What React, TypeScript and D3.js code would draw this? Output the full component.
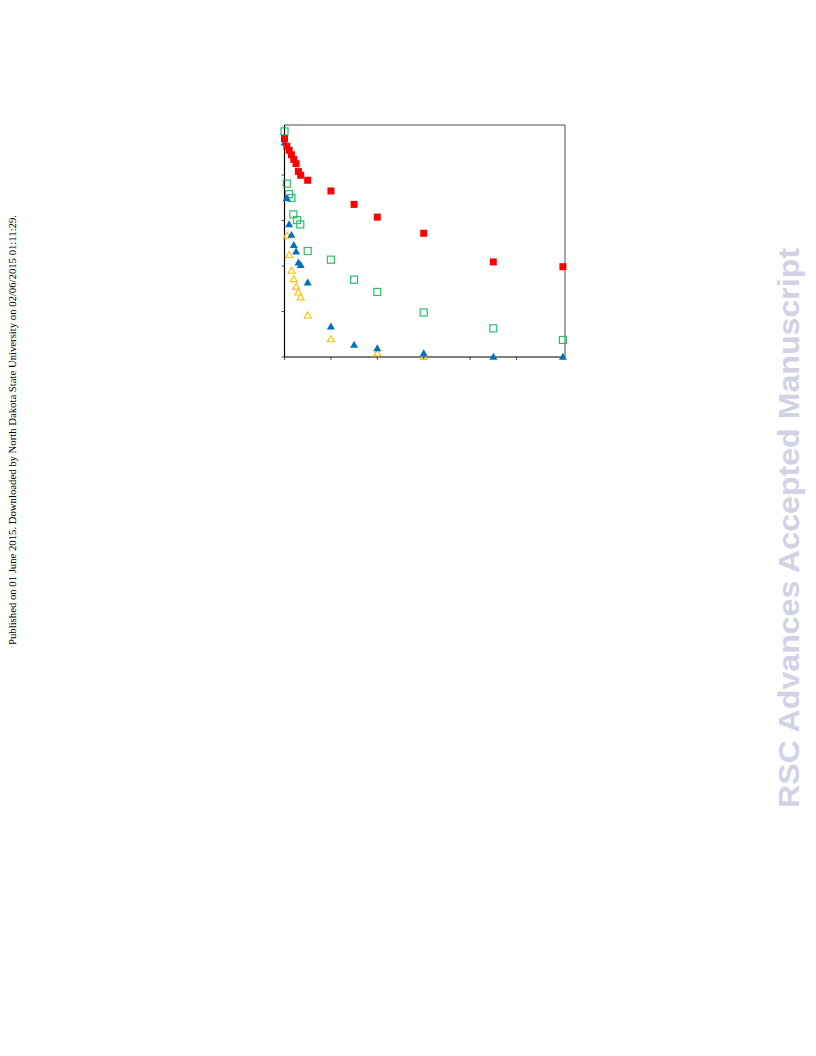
import React from "react";
import * as d3 from "d3";

const xTicks = [0, 10, 20, 30, 40, 50, 60];
const yTicks = [0, 0.2, 0.4, 0.6, 0.8];

const redX = [0, 0.5, 1, 1.5, 2, 2.5, 3, 3.5, 5, 10, 15, 20, 30, 45, 60];
const redY = [0.96, 0.927, 0.909, 0.889, 0.869, 0.85, 0.816, 0.799, 0.777, 0.73, 0.671, 0.615, 0.544, 0.418, 0.397];

const greenX = [0, 0.5, 1, 1.5, 1.9, 2.7, 3.4, 5, 10, 15, 20, 30, 45, 60];
const greenY = [0.992, 0.762, 0.716, 0.699, 0.627, 0.602, 0.583, 0.466, 0.428, 0.34, 0.286, 0.196, 0.126, 0.075];

const blueX = [0, 0.5, 1, 1.5, 2, 2.5, 3, 3.5, 5, 10, 15, 20, 30, 45, 60];
const blueY = [0.942, 0.698, 0.583, 0.536, 0.492, 0.463, 0.415, 0.404, 0.327, 0.133, 0.053, 0.038, 0.016, 0.0, 0.0];

const orangeX = [0.5, 1, 1.5, 2, 2.5, 3, 3.5, 5, 10, 20, 30];
const orangeY = [0.533, 0.448, 0.379, 0.342, 0.309, 0.283, 0.262, 0.182, 0.078, 0.016, 0.0];

const sideNote = "Published on 01 June 2015. Downloaded by North Dakota State University on 02/06/2015 01:11:29.";
const watermark = "RSC Advances Accepted Manuscript";

export default function App() {
  const left = 284.5, right = 565, top = 125, bottom = 357;
  const x = d3.scaleLinear().domain([0, 60.45]).range([left, right]);
  const y = d3.scaleLinear().domain([0, 1.02]).range([bottom, top]);

  const tri = (cx: number, cy: number, s: number) => {
    const h = s * 0.87;
    return `M${cx},${cy - h * 0.6}L${cx + s / 2},${cy + h * 0.4}L${cx - s / 2},${cy + h * 0.4}Z`;
  };

  return (
    <svg width={816} height={1056} style={{ position: "absolute", left: 0, top: 0, background: "#fff" }}>
      <text
        transform={`translate(15.5,430) rotate(-90)`}
        textAnchor="middle"
        fontFamily="Liberation Serif, Times New Roman, serif"
        fontSize={10}
        textLength={430}
        lengthAdjust="spacingAndGlyphs"
        fill="#000"
      >
        {sideNote}
      </text>
      <text
        transform={`translate(799,528) rotate(-90)`}
        textAnchor="middle"
        fontFamily="Liberation Sans, Arial, sans-serif"
        fontWeight="bold"
        fontSize={30}
        textLength={560}
        lengthAdjust="spacingAndGlyphs"
        fill="#D2D2E6"
      >
        {watermark}
      </text>

      <line x1={left} x2={right} y1={top} y2={top} stroke="#868686" strokeWidth={1.5} />
      <line x1={right} x2={right} y1={top} y2={bottom} stroke="#868686" strokeWidth={1.5} />

      {yTicks.map((t) => (
        <line key={"yt" + t} x1={left - 3} x2={left} y1={y(t)} y2={y(t)} stroke="#555" strokeWidth={1} />
      ))}
      {xTicks.map((t) => (
        <line key={"xt" + t} x1={x(t)} x2={x(t)} y1={bottom} y2={bottom + 3} stroke="#555" strokeWidth={1} />
      ))}

      <line x1={left} x2={left} y1={top} y2={bottom} stroke="#000" strokeWidth={1.2} />
      <line x1={left} x2={right} y1={bottom} y2={bottom} stroke="#000" strokeWidth={1.2} />

      {orangeX.map((v, i) => (
        <path key={"o" + i} d={tri(x(v), y(orangeY[i]), 7)} fill="none" stroke="#FFC000" strokeWidth={1.1} />
      ))}
      {greenX.map((v, i) => (
        <rect key={"g" + i} x={x(v) - 3.5} y={y(greenY[i]) - 3.5} width={7} height={7} fill="none" stroke="#2DBE6C" strokeWidth={1.2} />
      ))}
      {blueX.map((v, i) => (
        <path key={"b" + i} d={tri(x(v), y(blueY[i]), 8)} fill="#0070C0" />
      ))}
      {redX.map((v, i) => (
        <rect key={"r" + i} x={x(v) - 3.5} y={y(redY[i]) - 3.5} width={7} height={7} fill="#FF0000" />
      ))}
    </svg>
  );
}
